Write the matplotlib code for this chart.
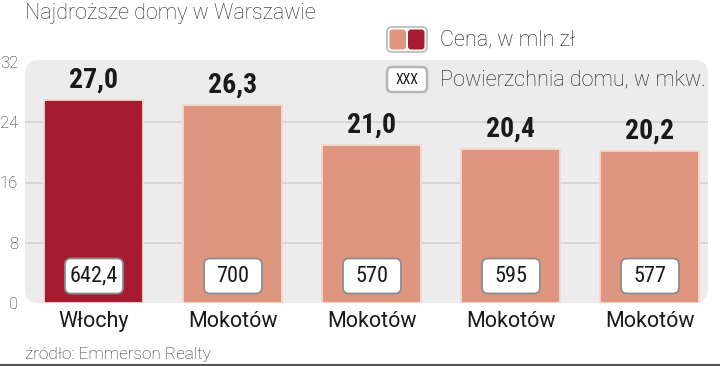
import matplotlib
matplotlib.use('Agg')
import matplotlib.pyplot as plt
from matplotlib.patches import FancyBboxPatch
from matplotlib.lines import Line2D
from matplotlib import font_manager as fm

title = "Najdroższe domy w Warszawie"
source = "źródło: Emmerson Realty"
districts = ["Włochy", "Mokotów", "Mokotów", "Mokotów", "Mokotów"]
prices = [27.0, 26.3, 21.0, 20.4, 20.2]
price_labels = ["27,0", "26,3", "21,0", "20,4", "20,2"]
areas = ["642,4", "700", "570", "595", "577"]
yticks = [0, 8, 16, 24, 32]
legend_labels = ["Cena, w mln zł", "Powierzchnia domu, w mkw."]

available = {f.name for f in fm.fontManager.ttflist}


def pick(*names):
    for n in names:
        if n in available:
            return n
    return 'DejaVu Sans'


light = pick('Roboto', 'Lato', 'Open Sans')
narrow = pick('Liberation Sans Narrow', 'Roboto Condensed', 'DejaVu Sans')

W, H = 720, 366
fig = plt.figure(figsize=(W / 100, H / 100), dpi=100)


def fx(x):
    return x / W


def fy(y):
    return 1 - y / H


def fig_box(x0, y0, x1, y1, r, **kw):
    p = FancyBboxPatch((fx(x0), fy(y1)), (x1 - x0) / W, (y1 - y0) / H,
                       boxstyle=f"round,pad=0,rounding_size={r / W}",
                       mutation_aspect=W / H, transform=fig.transFigure, **kw)
    fig.patches.append(p)
    return p


# grey panel
fig_box(25, 60, 708, 303, 14, facecolor='#ececec', edgecolor='none', zorder=-5)

ax_l, ax_r, ax_t, ax_b = 25, 708, 62, 303
ax = fig.add_axes([fx(ax_l), fy(ax_b), (ax_r - ax_l) / W, (ax_b - ax_t) / H])
ax.patch.set_visible(False)
for s in ax.spines.values():
    s.set_visible(False)

xpx = 139.0
x_left = -(94 - ax_l) / xpx
x_right = 4 + (ax_r - 650) / xpx
ax.set_xlim(x_left, x_right)
ax.set_ylim(0, 32)
ypx = (ax_b - ax_t) / 32.0

ax.hlines([8, 16, 24], x_left, x_right, color='#d2d2d2', lw=1.2, zorder=0)

xs = list(range(len(prices)))
colors = ['#a51c30'] + ['#de9681'] * (len(prices) - 1)
ax.bar(xs, prices, width=99 / xpx, color=colors, edgecolor='#f4d9d0',
       linewidth=1.3, zorder=2)

for i, (v, lab) in enumerate(zip(prices, price_labels)):
    ax.annotate(lab, (i, v), xytext=(0, 4.5), textcoords='offset points',
                ha='center', va='bottom', fontsize=20, fontweight='bold',
                family=narrow, color='#1a1a1a', zorder=4)

bw, bh, byc = 58 / xpx, 35 / ypx, (303 - 276) / ypx
rr = 6 / xpx
for i, a in enumerate(areas):
    box = FancyBboxPatch((i - bw / 2, byc - bh / 2), bw, bh,
                         boxstyle=f"round,pad=0,rounding_size={rr}",
                         mutation_aspect=xpx / ypx, facecolor='white',
                         edgecolor='#8c8c8c', linewidth=1.3, zorder=3)
    ax.add_patch(box)
    ax.text(i, byc, a, ha='center', va='center', fontsize=16, family=narrow,
            color='#1a1a1a', zorder=4)

ax.set_yticks(yticks)
ax.set_yticklabels([str(t) for t in yticks], fontsize=12, family=light,
                   fontweight='light', color='#2a2a2a')
ax.set_xticks(xs)
ax.set_xticklabels(districts, fontsize=15.5, family=light, color='#1a1a1a')
ax.tick_params(axis='both', length=0)
ax.tick_params(axis='y', pad=5)
ax.tick_params(axis='x', pad=6)

# legend
fig_box(387, 27, 427, 52, 5, facecolor='white', edgecolor='#c4c4c4', lw=1.5, zorder=5)
fig_box(389.5, 29.5, 406, 49.5, 3, facecolor='#de9681', edgecolor='none', zorder=6)
fig_box(408, 29.5, 424.5, 49.5, 3, facecolor='#a51c30', edgecolor='none', zorder=6)
fig.text(fx(440), fy(39.5), legend_labels[0], fontsize=15.6, family=light,
         fontweight='light', color='#1a1a1a', va='center', ha='left')

fig_box(387, 67, 427, 92, 5, facecolor='white', edgecolor='#b4b4b4', lw=1.8, zorder=5)
fig.text(fx(407), fy(79.5), "XXX", fontsize=10, family=narrow, color='#1a1a1a',
         va='center', ha='center', zorder=7)
fig.text(fx(440), fy(79.5), legend_labels[1], fontsize=15.6, family=light,
         fontweight='light', color='#1a1a1a', va='center', ha='left')

fig.text(fx(25), fy(14), title, fontsize=15.5, family=light, fontweight='light',
         color='#2a2a2a', va='center', ha='left')
fig.text(fx(25), fy(355), source, fontsize=12.3, family=light, fontweight='light',
         color='#2a2a2a', va='center', ha='left')

fig.lines.append(Line2D([0, 1], [fy(365), fy(365)], transform=fig.transFigure,
                        color='#555555', lw=1.5))

fig.savefig('out.png', dpi=100)
